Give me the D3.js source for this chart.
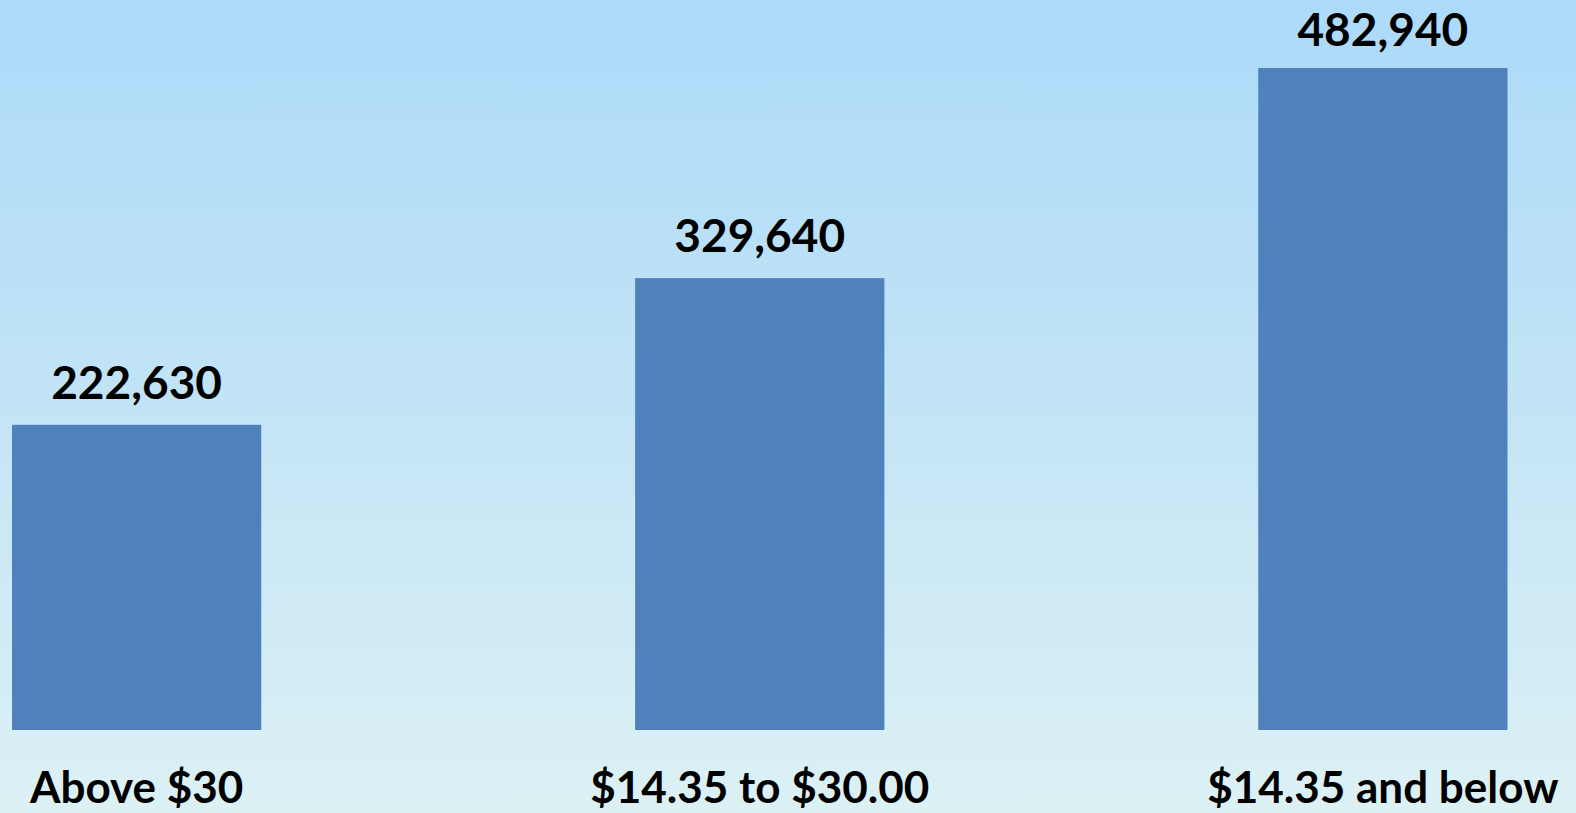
<!DOCTYPE html>
<html>
<head>
<meta charset="utf-8">
<script src="https://cdn.jsdelivr.net/npm/d3@7"></script>
<style>
	html, body { margin: 0; padding: 0; overflow: hidden; }
	#chart-area { width: 1576px; height: 813px; }
</style>
</head>
<body>
<div id="chart-area"></div>
<script>
// chart data
let categories = ["Above $30", "$14.35 to $30.00", "$14.35 and below"];
let values = [222630, 329640, 482940];
let valueLabels = ["222,630", "329,640", "482,940"];

drawChart();

function drawChart(){
	let width = 1576,
		height = 813;

	let svg = d3.select("#chart-area").append("svg")
		.attr("width", width)
		.attr("height", height);

	// background gradient (light blue to pale cyan)
	let defs = svg.append("defs");
	let grad = defs.append("linearGradient")
		.attr("id", "bg")
		.attr("x1", 0).attr("y1", 0)
		.attr("x2", 0).attr("y2", 1);
	grad.append("stop").attr("offset", "0%").attr("stop-color", "#acdaf9");
	grad.append("stop").attr("offset", "50%").attr("stop-color", "#c3e4f6");
	grad.append("stop").attr("offset", "100%").attr("stop-color", "#dcf1f4");

	svg.append("rect")
		.attr("width", width)
		.attr("height", height)
		.attr("fill", "url(#bg)");

	// x scale
	let x = d3.scaleBand()
		.domain(categories)
		.range([12, 1507.5])
		.paddingInner(0.6)
		.paddingOuter(0);

	// y scale: baseline at 730
	let y = d3.scaleLinear()
		.domain([0, 500000])
		.range([730, 730 - 500000 * 0.0013708]);

	let data = categories.map((c, i) => ({cat: c, value: values[i], label: valueLabels[i]}));

	svg.selectAll(".bar").data(data)
		.enter()
		.append("rect")
		.attr("class", "bar")
		.attr("x", d => x(d.cat))
		.attr("y", d => y(d.value))
		.attr("width", x.bandwidth())
		.attr("height", d => y(0) - y(d.value))
		.attr("fill", "#4f81bd");

	// value labels above bars, kept inside the top edge
	svg.selectAll(".value-label").data(data)
		.enter()
		.append("text")
		.attr("class", "value-label")
		.attr("x", d => x(d.cat) + x.bandwidth() / 2)
		.attr("y", d => Math.max(y(d.value) - 26, 46))
		.attr("text-anchor", "middle")
		.style("font-family", "Lato, 'Open Sans', sans-serif")
		.style("font-weight", "bold")
		.style("font-size", "46px")
		.attr("fill", "#000")
		.text(d => d.label);

	// category axis (no line, no ticks)
	let xAxis = d3.axisBottom(x).tickSize(0).tickPadding(0);
	let axisG = svg.append("g")
		.attr("class", "axis x-axis")
		.attr("transform", "translate(0,730)")
		.call(xAxis);
	axisG.select(".domain").remove();
	axisG.selectAll("text")
		.attr("dy", null)
		.attr("y", 73)
		.style("font-family", "Lato, 'Open Sans', sans-serif")
		.style("font-weight", "bold")
		.style("font-size", "44px")
		.attr("fill", "#000");
}
</script>
</body>
</html>
